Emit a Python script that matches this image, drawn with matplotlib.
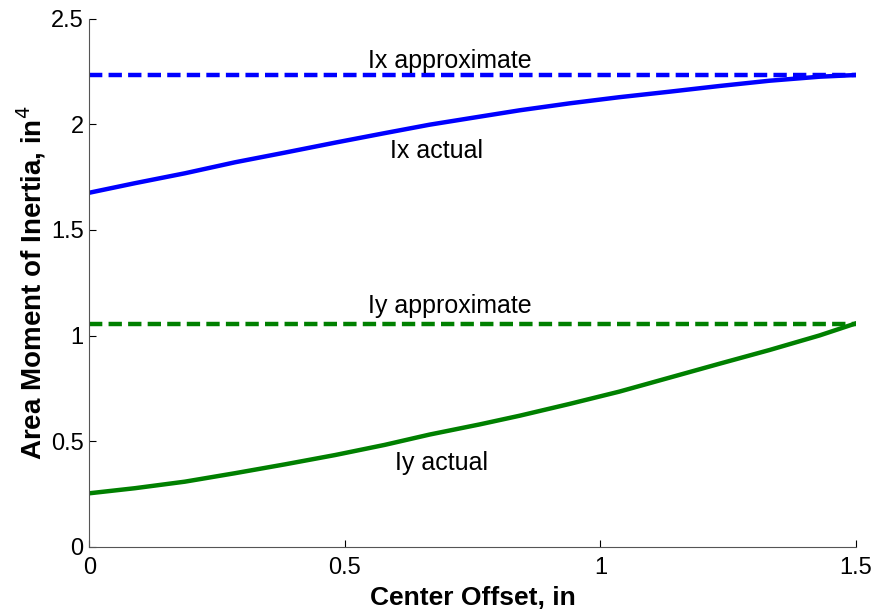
import numpy as np
import matplotlib
matplotlib.use("Agg")
import matplotlib.pyplot as plt
from matplotlib import font_manager

offset_x = [0.0, 0.089, 0.187, 0.285, 0.383, 0.481, 0.578, 0.666, 0.764, 0.842, 0.940,
            1.037, 1.135, 1.233, 1.331, 1.429, 1.5]
ix_actual = [1.676, 1.721, 1.768, 1.820, 1.866, 1.913, 1.958, 1.998, 2.036, 2.066, 2.099,
             2.128, 2.154, 2.181, 2.206, 2.225, 2.233]
offset_y = [0.0, 0.089, 0.187, 0.285, 0.383, 0.481, 0.578, 0.666, 0.764, 0.842, 0.940,
            1.037, 1.135, 1.233, 1.331, 1.429, 1.5]
iy_actual = [0.254, 0.278, 0.309, 0.349, 0.391, 0.435, 0.483, 0.532, 0.580, 0.621, 0.677,
             0.735, 0.801, 0.867, 0.932, 1.001, 1.058]
ix_approx = 2.233
iy_approx = 1.056
x_range = [0.0, 1.5]
xticks = [0, 0.5, 1, 1.5]
xticklabels = ["0", "0.5", "1", "1.5"]
yticks = [0, 0.5, 1, 1.5, 2, 2.5]
yticklabels = ["0", "0.5", "1", "1.5", "2", "2.5"]

names = {f.name for f in font_manager.fontManager.ttflist}
narrow = "Liberation Sans Narrow" if "Liberation Sans Narrow" in names else "Liberation Sans"
plt.rcParams['font.family'] = [narrow, 'DejaVu Sans']

fig = plt.figure(figsize=(8.77, 6.13), dpi=100)
ax = fig.add_axes([0.1018, 0.1077, 0.8742, 0.862])

blue = (0, 0, 1)
green = (0, 0.5, 0)
dash = (0, (3.0, 1.4))
lw = 3.2
ax.plot(x_range, [ix_approx, ix_approx], color=blue, lw=lw, ls=dash)
ax.plot(offset_x, ix_actual, color=blue, lw=lw)
ax.plot(x_range, [iy_approx, iy_approx], color=green, lw=lw, ls=dash)
ax.plot(offset_y, iy_actual, color=green, lw=lw)

fs = 18
ax.text(0.705, 2.30, "Ix approximate", ha='center', va='center', fontsize=fs)
ax.text(0.680, 1.875, "Ix actual", ha='center', va='center', fontsize=fs)
ax.text(0.705, 1.14, "Iy approximate", ha='center', va='center', fontsize=fs)
ax.text(0.689, 0.395, "Iy actual", ha='center', va='center', fontsize=fs)

ax.set_xlim(0, 1.5)
ax.set_ylim(0, 2.5)
ax.set_xticks(xticks)
ax.set_xticklabels(xticklabels)
ax.set_yticks(yticks)
ax.set_yticklabels(yticklabels)
ax.tick_params(direction='in', length=5, labelsize=17, colors='black')
ax.tick_params(axis='x', pad=7)
ax.tick_params(axis='y', pad=4)
ax.spines['top'].set_visible(False)
ax.spines['right'].set_visible(False)
for s in ['left', 'bottom']:
    ax.spines[s].set_color('#555555')

ax.set_xlabel("Center Offset, in", fontsize=19, fontweight='bold', family='Liberation Sans', labelpad=5)
ax.set_ylabel("Area Moment of Inertia, in$^4$", fontsize=20, fontweight='bold', family='Liberation Sans', labelpad=2)

fig.savefig("out.png", dpi=100)
